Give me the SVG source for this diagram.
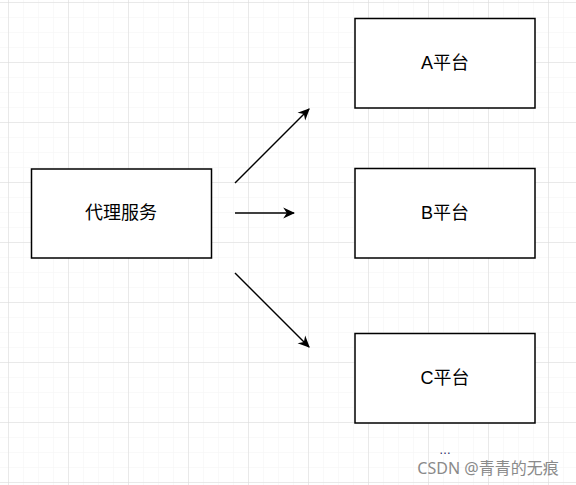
<svg xmlns="http://www.w3.org/2000/svg" width="576" height="485" viewBox="0 0 576 485">
<defs>
<pattern id="minor" x="8" y="2" width="15" height="15" patternUnits="userSpaceOnUse">
<path d="M0 0H15M0 0V15" fill="none" stroke="#f3f3f3" stroke-width="1"/>
</pattern>
<pattern id="major" x="8" y="2" width="60" height="60" patternUnits="userSpaceOnUse">
<path d="M0 0H60M0 0V60" fill="none" stroke="#d9d9d9" stroke-width="1"/>
</pattern>
<marker id="arrow" viewBox="0 0 10 10" refX="9" refY="5" markerWidth="12" markerHeight="12" markerUnits="userSpaceOnUse" orient="auto">
<path d="M0 0.5L10 5L0 9.5L3 5Z" fill="#000"/>
</marker>
</defs>
<style>
.box{fill:#fff;stroke:#000;stroke-width:1.5}
.lbl{font-family:"Liberation Sans","Noto Sans CJK SC",sans-serif;font-size:18px;fill:#000;text-anchor:middle;dominant-baseline:central}
.edge{stroke:#000;stroke-width:1.5;fill:none;marker-end:url(#arrow)}
</style>
<rect width="576" height="485" fill="#fff"/>
<rect width="576" height="485" fill="url(#minor)"/>
<rect width="576" height="485" fill="url(#major)"/>
<g id="proxy"><rect class="box" x="31.5" y="169" width="180" height="89"/><text class="lbl" x="121" y="213">代理服务</text></g>
<g id="platformA"><rect class="box" x="355" y="18.5" width="180" height="89.5"/><text class="lbl" x="445" y="63">A平台</text></g>
<g id="platformB"><rect class="box" x="355" y="168.5" width="180" height="89.5"/><text class="lbl" x="445" y="213">B平台</text></g>
<g id="platformC"><rect class="box" x="355" y="333.5" width="180" height="89.5"/><text class="lbl" x="445" y="378">C平台</text></g>
<g id="connectors">
<line class="edge" x1="235" y1="183" x2="309" y2="109"/>
<line class="edge" x1="235" y1="213" x2="294" y2="213"/>
<line class="edge" x1="235" y1="273" x2="309" y2="347"/>
</g>
<text x="445" y="453.5" font-family="Liberation Sans,sans-serif" font-size="12" fill="#1a1a5e" text-anchor="middle">…</text>
<text x="488" y="473.5" font-family="'Noto Sans','Noto Sans CJK SC',sans-serif" font-size="16" fill="#8a8a8a" text-anchor="middle">CSDN @青青的无痕</text>
</svg>
